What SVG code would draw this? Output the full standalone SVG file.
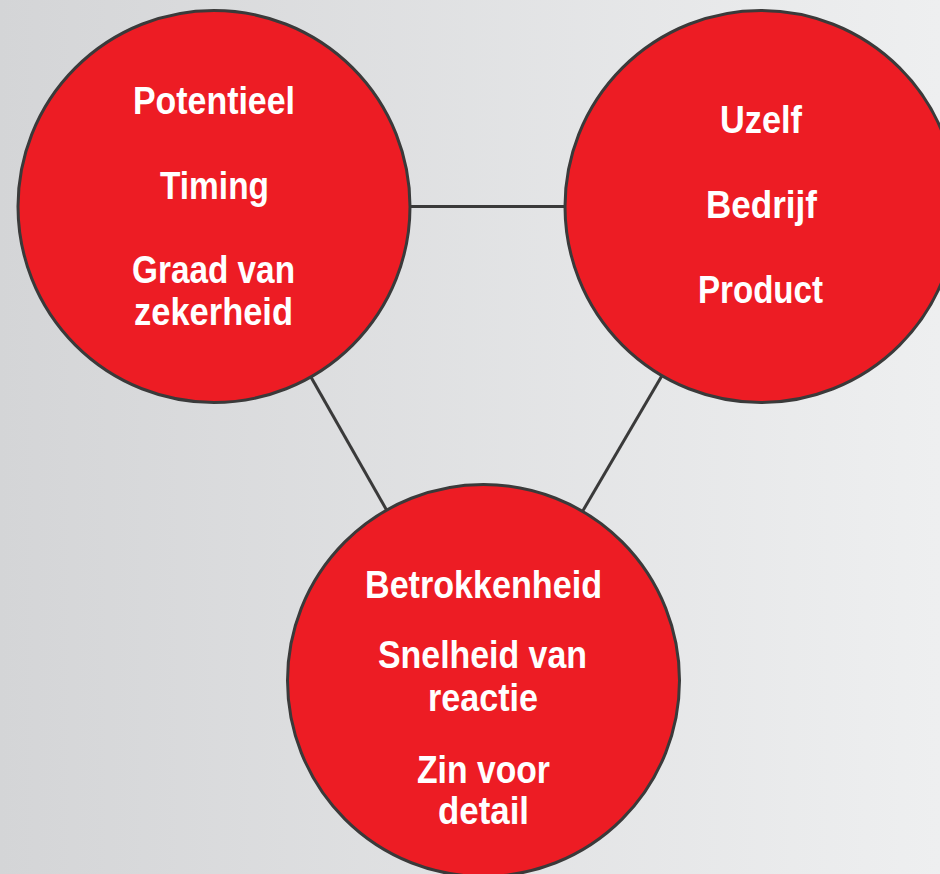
<svg xmlns="http://www.w3.org/2000/svg" width="940" height="874" viewBox="0 0 940 874">
  <defs>
    <linearGradient id="bg" x1="0" y1="0" x2="1" y2="0">
      <stop offset="0" stop-color="#d4d5d7"/>
      <stop offset="1" stop-color="#eeeff0"/>
    </linearGradient>
  </defs>
  <style>
    .node { fill: #ed1c24; stroke: #3a3a3a; stroke-width: 3; }
    .link { stroke: #3a3a3a; stroke-width: 3; fill: none; }
    .label { fill: #ffffff; font-family: "Liberation Sans", Arial, sans-serif; font-weight: bold; font-size: 39px; text-anchor: middle; }
  </style>
  <rect x="0" y="0" width="940" height="874" fill="url(#bg)"/>

  <g id="connectors">
    <line class="link" x1="214" y1="206.5" x2="761" y2="206.5"/>
    <line class="link" x1="214" y1="206.5" x2="483.5" y2="680.5"/>
    <line class="link" x1="761" y1="206.5" x2="483.5" y2="680.5"/>
  </g>

  <g id="node-left">
    <circle class="node" cx="214" cy="206.5" r="196"/>
    <text class="label" x="214" y="114" textLength="162" lengthAdjust="spacingAndGlyphs">Potentieel</text>
    <text class="label" x="214.5" y="199" textLength="109" lengthAdjust="spacingAndGlyphs">Timing</text>
    <text class="label" x="213.5" y="283" textLength="163" lengthAdjust="spacingAndGlyphs">Graad van</text>
    <text class="label" x="213.5" y="325" textLength="159" lengthAdjust="spacingAndGlyphs">zekerheid</text>
  </g>

  <g id="node-right">
    <circle class="node" cx="761" cy="206.5" r="196"/>
    <text class="label" x="761" y="133" textLength="82" lengthAdjust="spacingAndGlyphs">Uzelf</text>
    <text class="label" x="761.5" y="218" textLength="111" lengthAdjust="spacingAndGlyphs">Bedrijf</text>
    <text class="label" x="760.5" y="303" textLength="125" lengthAdjust="spacingAndGlyphs">Product</text>
  </g>

  <g id="node-bottom">
    <circle class="node" cx="483.5" cy="680.5" r="196"/>
    <text class="label" x="483.5" y="598" textLength="237" lengthAdjust="spacingAndGlyphs">Betrokkenheid</text>
    <text class="label" x="482.5" y="668" textLength="209" lengthAdjust="spacingAndGlyphs">Snelheid van</text>
    <text class="label" x="483" y="711" textLength="110" lengthAdjust="spacingAndGlyphs">reactie</text>
    <text class="label" x="483.5" y="783" textLength="133" lengthAdjust="spacingAndGlyphs">Zin voor</text>
    <text class="label" x="483.5" y="824" textLength="91" lengthAdjust="spacingAndGlyphs">detail</text>
  </g>
</svg>
